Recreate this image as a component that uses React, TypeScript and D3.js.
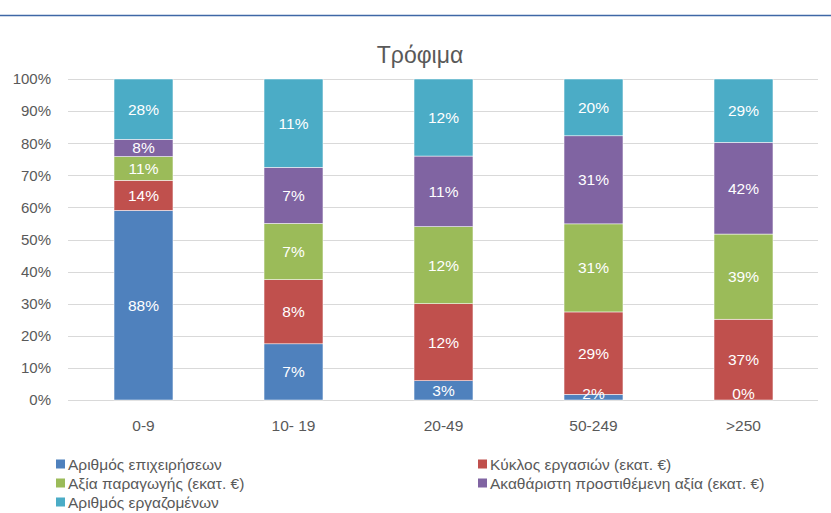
import React from "react";
import * as d3 from "d3";

const categories = ["0-9", "10- 19", "20-49", "50-249", ">250"];
const seriesNames = [
  "Αριθμός επιχειρήσεων",
  "Κύκλος εργασιών (εκατ. €)",
  "Αξία παραγωγής (εκατ. €)",
  "Ακαθάριστη προστιθέμενη αξία (εκατ. €)",
  "Αριθμός εργαζομένων",
];
const colors = ["#4F81BD", "#C0504D", "#9BBB59", "#8064A2", "#4BACC6"];
const enterprises = [88, 7, 3, 2, 0];
const turnover = [14, 8, 12, 29, 37];
const production = [11, 7, 12, 31, 39];
const valueAdded = [8, 7, 11, 31, 42];
const employees = [28, 11, 12, 20, 29];
const yTicks = [0, 0.1, 0.2, 0.3, 0.4, 0.5, 0.6, 0.7, 0.8, 0.9, 1];
const title = "Τρόφιμα";

const W = 831;
const H = 513;
const font = "'Liberation Sans', Arial, sans-serif";
const textColor = "#595959";

export default function App() {
  const seriesArrays = [enterprises, turnover, production, valueAdded, employees];
  const rows = categories.map((c, i) => {
    const r: any = { cat: c };
    seriesArrays.forEach((arr, k) => (r["s" + k] = arr[i]));
    return r;
  });
  const keys = seriesArrays.map((_, k) => "s" + k);
  const stacked = d3.stack().keys(keys).offset(d3.stackOffsetExpand)(rows);

  const x = d3.scaleBand().domain(categories).range([68.5, 818.5]).paddingInner(0.607).paddingOuter(0.3035);
  const y = d3.scaleLinear().domain([0, 1]).range([400, 79]);
  const fmt = d3.format(".0%");

  const legendPos = [
    [56, 464],
    [478, 464],
    [56, 483],
    [478, 483],
    [56, 502],
  ];

  return (
    <svg width={W} height={H} style={{ position: "absolute", left: 0, top: 0, background: "#fff" }}>
      <rect x={0} y={0} width={W} height={H} fill="#fff" />
      <line x1={0} x2={W} y1={15.5} y2={15.5} stroke="#3E67A6" strokeWidth={1.5} />
      <text x={420} y={63} textAnchor="middle" fontFamily={font} fontSize={23} fill={textColor}>
        {title}
      </text>
      {yTicks.map((t) => (
        <g key={t}>
          <line x1={68} x2={818} y1={Math.round(y(t)) + 0.5} y2={Math.round(y(t)) + 0.5} stroke="#D9D9D9" strokeWidth={1} />
          <text x={51} y={y(t) + 5.3} textAnchor="end" fontFamily={font} fontSize={15} fill={textColor}>
            {fmt(t)}
          </text>
        </g>
      ))}
      {stacked.map((layer, k) => (
        <g key={k}>
          {layer.map((d, i) => (
            <rect
              key={i}
              x={x(categories[i])}
              y={y(d[1])}
              width={x.bandwidth()}
              height={Math.max(0, y(d[0]) - y(d[1]))}
              fill={colors[k]}
              stroke="#fff"
              strokeWidth={0.5}
            />
          ))}
        </g>
      ))}
      {stacked.map((layer, k) => (
        <g key={"l" + k}>
          {layer.map((d, i) => {
            const cy = Math.min((y(d[0]) + y(d[1])) / 2, y(0) - 7);
            return (
              <text
                key={i}
                x={(x(categories[i]) as number) + x.bandwidth() / 2}
                y={cy + 5.5}
                textAnchor="middle"
                fontFamily={font}
                fontSize={15.5}
                fill="#fff"
              >
                {seriesArrays[k][i] + "%"}
              </text>
            );
          })}
        </g>
      ))}
      {categories.map((c) => (
        <text
          key={c}
          x={(x(c) as number) + x.bandwidth() / 2}
          y={431}
          textAnchor="middle"
          fontFamily={font}
          fontSize={15.5}
          fill={textColor}
        >
          {c}
        </text>
      ))}
      {seriesNames.map((n, k) => (
        <g key={n} transform={`translate(${legendPos[k][0]},${legendPos[k][1]})`}>
          <rect x={0} y={-4.5} width={9} height={9} fill={colors[k]} />
          <text x={12} y={5.5} fontFamily={font} fontSize={15.5} fill={textColor}>
            {n}
          </text>
        </g>
      ))}
    </svg>
  );
}
